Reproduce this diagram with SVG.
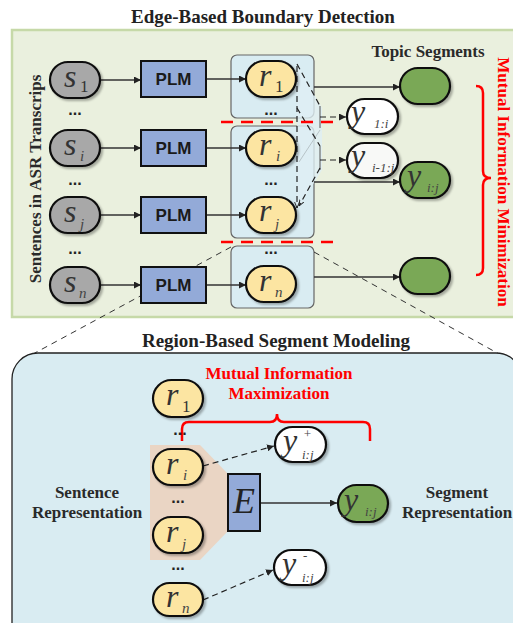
<svg xmlns="http://www.w3.org/2000/svg" width="513" height="623" viewBox="0 0 513 623">
<style>
.title{font-family:"Liberation Serif",serif;font-weight:bold;font-size:19px;fill:#222}
.lab{font-family:"Liberation Serif",serif;font-weight:bold;font-size:17px;fill:#2a2a2a}
.red{font-family:"Liberation Serif",serif;font-weight:bold;font-size:17px;fill:#ff0000}
.plm{font-family:"Liberation Sans",sans-serif;font-weight:bold;font-size:17px;fill:#1a1a1a}
.dots{font-family:"Liberation Sans",sans-serif;font-weight:bold;font-size:16px;fill:#222}
.m{font-family:"Liberation Serif",serif;font-style:italic;font-size:32px;fill:#333}
.sb{font-family:"Liberation Serif",serif;font-size:17px;fill:#333}
.si{font-family:"Liberation Serif",serif;font-style:italic;font-size:15px;fill:#444}
.ss{font-family:"Liberation Serif",serif;font-style:italic;font-size:13px;fill:#444}
.gray{fill:#a8a8a8;stroke:#111;stroke-width:2.2}
.yel{fill:#fce5a2;stroke:#111;stroke-width:2.2}
.grn{fill:#7aa856;stroke:#111;stroke-width:2.2}
.wht{fill:#ffffff;stroke:#111;stroke-width:2.2}
.box{fill:#93aad8;stroke:#111;stroke-width:2}
.cont{fill:#d9ecf2;stroke:#666;stroke-width:1.2}
.ln{fill:none;stroke:#333;stroke-width:1.3}
.dl{fill:none;stroke:#222;stroke-width:1.2;stroke-dasharray:6 4}
.rd{fill:none;stroke:#ff0000;stroke-width:2.5;stroke-dasharray:12 8}
.br{fill:none;stroke:#ff0000;stroke-width:2.5}
</style>
<defs>
<marker id="ah" viewBox="0 0 10 10" refX="10" refY="5" markerWidth="7" markerHeight="7" orient="auto" markerUnits="userSpaceOnUse">
<path d="M0,0 L10,5 L0,10 Z" fill="#222"/>
</marker>
<marker id="ahs" viewBox="0 0 10 10" refX="10" refY="5" markerWidth="6" markerHeight="6" orient="auto" markerUnits="userSpaceOnUse">
<path d="M0,1 L10,5 L0,9" fill="none" stroke="#222" stroke-width="1.5"/>
</marker>
<filter id="sh" x="-20%" y="-20%" width="150%" height="160%">
<feDropShadow dx="2" dy="2" stdDeviation="1.2" flood-color="#000" flood-opacity="0.3"/>
</filter>
</defs>

<!-- Top panel -->
<text class="title" x="263" y="23" text-anchor="middle">Edge-Based Boundary Detection</text>
<rect x="12" y="30" width="510" height="287" fill="#eaf0de" stroke="#c6d9a8" stroke-width="2.5"/>
<text class="lab" transform="translate(41,179) rotate(-90)" text-anchor="middle">Sentences in ASR Transcrips</text>
<text class="lab" x="428" y="57" text-anchor="middle">Topic Segments</text>
<text class="red" transform="translate(498,182) rotate(90)" text-anchor="middle">Mutual Information Minimization</text>

<!-- containers -->
<g id="containers">
<rect class="cont" x="231" y="55" width="83" height="63" rx="6"/>
<rect class="cont" x="231" y="126" width="83" height="112" rx="6"/>
<rect class="cont" x="231" y="246" width="83" height="62" rx="6"/>
<polygon points="297,64 322,108 322,170 297,210" fill="#dfeff4" opacity="0.8"/>
</g>

<g id="connectors">
<line class="ln" x1="100" y1="80" x2="141" y2="80" marker-end="url(#ah)"/>
<line class="ln" x1="100" y1="148" x2="141" y2="148" marker-end="url(#ah)"/>
<line class="ln" x1="100" y1="215" x2="141" y2="215" marker-end="url(#ah)"/>
<line class="ln" x1="100" y1="285" x2="141" y2="285" marker-end="url(#ah)"/>
<line class="ln" x1="206" y1="79" x2="246" y2="79" marker-end="url(#ah)"/>
<line class="ln" x1="206" y1="148" x2="246" y2="148" marker-end="url(#ah)"/>
<line class="ln" x1="206" y1="215" x2="246" y2="215" marker-end="url(#ah)"/>
<line class="ln" x1="206" y1="285" x2="246" y2="285" marker-end="url(#ah)"/>
<line class="ln" x1="314" y1="87" x2="400" y2="87" marker-end="url(#ah)"/>
<line class="ln" x1="314" y1="182" x2="400" y2="182" marker-end="url(#ah)"/>
<line class="ln" x1="314" y1="277" x2="400" y2="277" marker-end="url(#ah)"/>
<!-- dashed bracket structure -->
<path class="dl" d="M297,66 V208" marker-end="url(#ahs)"/>
<path class="dl" d="M297,64 L320,106"/>
<path d="M320,106 V128 M320,146 V170" fill="none" stroke="#555" stroke-width="1"/>
<path d="M320,130 L299,162" fill="none" stroke="#b8c4c8" stroke-width="1"/>
<path class="dl" d="M320,117 H346" marker-end="url(#ah)"/>
<path class="dl" d="M297,108 L320,146"/>
<path class="dl" d="M320,160 H346" marker-end="url(#ah)"/>
<path class="dl" d="M320,168 L299,206" marker-end="url(#ahs)"/>
<!-- red dashed separators -->
<line class="rd" x1="221" y1="122" x2="334" y2="122"/>
<line class="rd" x1="221" y1="242" x2="334" y2="242"/>
<!-- zoom lines -->
<line x1="231" y1="247" x2="33" y2="354" stroke="#333" stroke-width="1" stroke-dasharray="6 5"/>
<line x1="314" y1="252" x2="510" y2="360" stroke="#333" stroke-width="1" stroke-dasharray="6 5"/>
</g>

<!-- red brace right -->
<path class="br" d="M476,86 Q483,86 483,93 V171 Q483,178 491,178 Q483,178 483,185 V268 Q483,275 476,275"/>

<!-- s nodes -->
<g id="s1" filter="url(#sh)"><rect class="gray" x="50" y="62" width="50" height="36" rx="18"/></g>
<g id="si" filter="url(#sh)"><rect class="gray" x="50" y="130" width="50" height="36" rx="18"/></g>
<g id="sj" filter="url(#sh)"><rect class="gray" x="50" y="197" width="50" height="36" rx="18"/></g>
<g id="sn" filter="url(#sh)"><rect class="gray" x="50" y="267" width="50" height="36" rx="18"/></g>
<g id="s-labels">
<text class="m" x="64" y="87">s</text><text class="sb" x="80" y="92">1</text>
<text class="m" x="64" y="155">s</text><text class="si" x="80" y="161">i</text>
<text class="m" x="64" y="222">s</text><text class="si" x="80" y="229">j</text>
<text class="m" x="64" y="292">s</text><text class="si" x="79" y="298">n</text>
<text class="dots" x="75" y="115" text-anchor="middle">...</text>
<text class="dots" x="75" y="185" text-anchor="middle">...</text>
<text class="dots" x="75" y="254" text-anchor="middle">...</text>
</g>

<!-- PLM -->
<g id="plm1"><rect class="box" x="141" y="61" width="65" height="36"/><text class="plm" x="173.5" y="85" text-anchor="middle">PLM</text></g>
<g id="plm2"><rect class="box" x="141" y="130" width="65" height="36"/><text class="plm" x="173.5" y="154" text-anchor="middle">PLM</text></g>
<g id="plm3"><rect class="box" x="141" y="197" width="65" height="36"/><text class="plm" x="173.5" y="221" text-anchor="middle">PLM</text></g>
<g id="plm4"><rect class="box" x="141" y="267" width="65" height="36"/><text class="plm" x="173.5" y="291" text-anchor="middle">PLM</text></g>

<!-- r nodes top -->
<g id="r1" filter="url(#sh)"><rect class="yel" x="246" y="61" width="50" height="36" rx="18"/></g>
<g id="ri" filter="url(#sh)"><rect class="yel" x="246" y="130" width="50" height="36" rx="18"/></g>
<g id="rj" filter="url(#sh)"><rect class="yel" x="246" y="197" width="50" height="36" rx="18"/></g>
<g id="rn" filter="url(#sh)"><rect class="yel" x="246" y="266" width="50" height="36" rx="18"/></g>
<g id="r-labels">
<text class="m" x="259" y="86">r</text><text class="sb" x="275" y="92">1</text>
<text class="m" x="259" y="155">r</text><text class="si" x="276" y="161">i</text>
<text class="m" x="259" y="221">r</text><text class="si" x="275" y="229">j</text>
<text class="m" x="259" y="291">r</text><text class="si" x="275" y="297">n</text>
<text class="dots" x="271" y="115" text-anchor="middle">...</text>
<text class="dots" x="271" y="185" text-anchor="middle">...</text>
<text class="dots" x="271" y="254" text-anchor="middle">...</text>
</g>

<!-- topic segments -->
<g id="seg1" filter="url(#sh)"><rect class="grn" x="400" y="68" width="50" height="36" rx="18"/></g>
<g id="segij" filter="url(#sh)"><rect class="grn" x="400" y="162" width="50" height="36" rx="18"/></g>
<g id="segn" filter="url(#sh)"><rect class="grn" x="400" y="258" width="50" height="36" rx="18"/></g>
<text class="m" x="407" y="186">y</text><text class="ss" x="427" y="192">i:j</text>
<g id="y1i" filter="url(#sh)"><rect class="wht" x="347" y="99" width="51" height="35" rx="17.5"/></g>
<text class="m" x="351" y="122">y</text><text class="ss" x="374" y="128">1:i</text>
<g id="yi1j" filter="url(#sh)"><rect class="wht" x="347" y="143" width="51" height="35" rx="17.5" fill-opacity="0.85"/></g>
<text class="m" x="351" y="166">y</text><text class="ss" x="372" y="172">i-1:j</text>

<!-- Bottom panel -->
<text class="title" x="276" y="347" text-anchor="middle">Region-Based Segment Modeling</text>
<rect x="12" y="353" width="510" height="300" rx="26" fill="#d9ecf2" stroke="#222" stroke-width="1.3"/>
<text class="red" x="279" y="379" text-anchor="middle">Mutual Information</text>
<text class="red" x="279" y="399" text-anchor="middle">Maximization</text>
<path class="br" d="M182,441 V429 Q182,422 189,422 H270 Q277,422 277,414 Q277,422 284,422 H363 Q370,422 370,429 V441"/>
<text class="lab" x="87" y="498" text-anchor="middle">Sentence</text>
<text class="lab" x="87" y="518" text-anchor="middle">Representation</text>
<text class="lab" x="457" y="498" text-anchor="middle">Segment</text>
<text class="lab" x="457" y="518" text-anchor="middle">Representation</text>

<polygon id="region" points="150,445 200,445 228,474 228,531 200,560 150,560" fill="#ead5c4"/>

<g id="bconnectors">
<line class="ln" x1="260" y1="503" x2="337" y2="503" marker-end="url(#ah)"/>
<line class="dl" x1="203" y1="466" x2="274" y2="446" marker-end="url(#ah)"/>
<line class="dl" x1="203" y1="600" x2="273" y2="570" marker-end="url(#ah)"/>
</g>

<g id="br1" filter="url(#sh)"><rect class="yel" x="153" y="380" width="50" height="37" rx="18.5"/></g>
<g id="bri" filter="url(#sh)"><rect class="yel" x="153" y="449" width="50" height="36" rx="18"/></g>
<g id="brj" filter="url(#sh)"><rect class="yel" x="153" y="517" width="50" height="36" rx="18"/></g>
<g id="brn" filter="url(#sh)"><rect class="yel" x="153" y="583" width="50" height="33" rx="16.5"/></g>
<text class="m" x="166" y="405">r</text><text class="sb" x="182" y="412">1</text>
<text class="m" x="166" y="474">r</text><text class="si" x="183" y="480">i</text>
<text class="m" x="166" y="542">r</text><text class="si" x="182" y="549">j</text>
<text class="m" x="166" y="607">r</text><text class="si" x="182" y="613">n</text>
<text class="dots" x="180" y="435" text-anchor="middle">...</text>
<text class="dots" x="178" y="503" text-anchor="middle">...</text>
<text class="dots" x="178" y="570" text-anchor="middle">...</text>

<g id="E"><rect class="box" x="228" y="474" width="32" height="57"/><text x="244" y="513" text-anchor="middle" font-family="Liberation Serif, serif" font-style="italic" font-size="36" fill="#222">E</text></g>

<g id="byij" filter="url(#sh)"><rect class="grn" x="338" y="485" width="50" height="37" rx="18.5"/></g>
<text class="m" x="344" y="510">y</text><text class="ss" x="365" y="516">i:j</text>

<g id="yplus" filter="url(#sh)"><rect class="wht" x="275" y="427" width="51" height="35" rx="17.5"/></g>
<text class="m" x="283" y="451">y</text><text class="ss" x="303" y="438">+</text><text class="ss" x="302" y="459">i:j</text>
<g id="yminus" filter="url(#sh)"><rect class="wht" x="274" y="550" width="52" height="35" rx="17.5"/></g>
<text class="m" x="282" y="574">y</text><text class="ss" x="303" y="560">-</text><text class="ss" x="302" y="582">i:j</text>
</svg>
